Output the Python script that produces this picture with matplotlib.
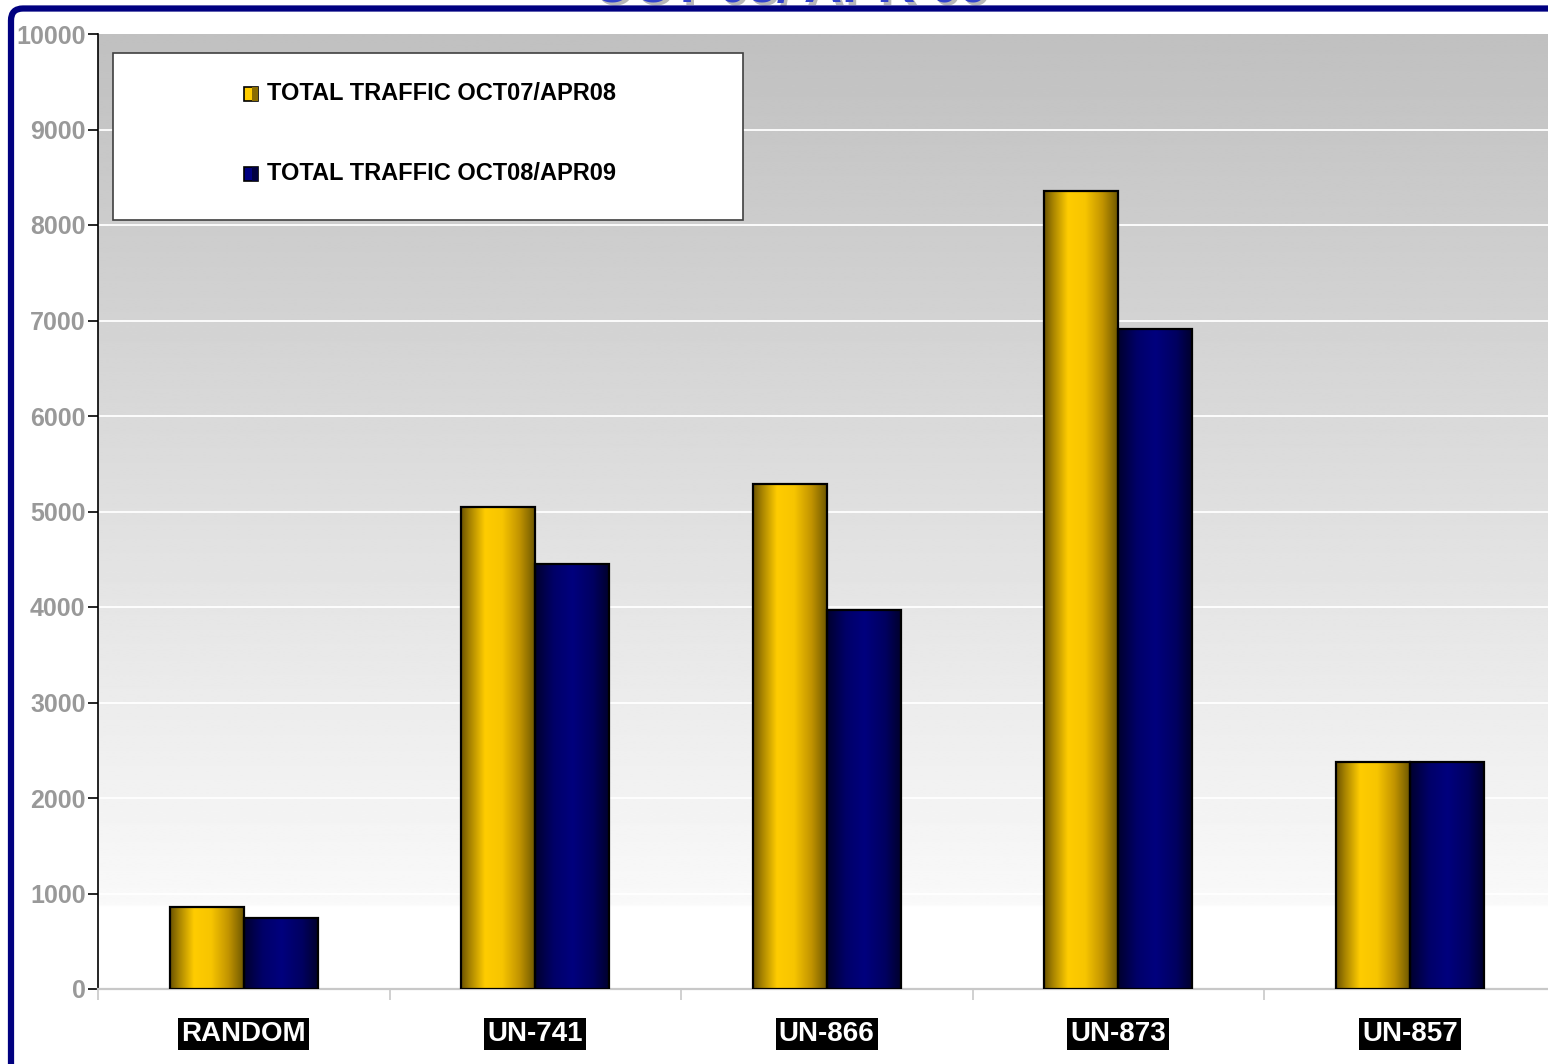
import numpy as np
import matplotlib.pyplot as plt
from matplotlib.colors import LinearSegmentedColormap
from matplotlib.patches import Rectangle, FancyBboxPatch

# datos
rutas = ["RANDOM", "UN-741", "UN-866", "UN-873", "UN-857"]
trafico_0708 = [860, 5050, 5290, 8360, 2380]
trafico_0809 = [745, 4450, 3970, 6910, 2380]
etiquetas_leyenda = ["TOTAL TRAFFIC OCT07/APR08", "TOTAL TRAFFIC OCT08/APR09"]
titulo = "OCT 08/ APR 09"

plt.rcParams["font.family"] = ["Liberation Sans", "DejaVu Sans"]
plt.rcParams["font.weight"] = "bold"

W, H = 1548, 1064
fig = plt.figure(figsize=(W / 100, H / 100), dpi=100)
fig.patch.set_facecolor("white")


def px(x, y):
    """pixel (origen arriba-izquierda) -> coordenadas de figura"""
    return x / W, 1 - y / H


x0, y_top, y_bot, x1 = 98, 34, 989, 1555.5
ax = fig.add_axes([x0 / W, 1 - y_bot / H, (x1 - x0) / W, (y_bot - y_top) / H])

cmap_oro = LinearSegmentedColormap.from_list("oro", [
    (0.0, "#6a5200"), (0.12, "#a88400"), (0.32, "#ffcc00"),
    (0.55, "#f7c500"), (0.78, "#c29400"), (1.0, "#6a5500")])
cmap_azul = LinearSegmentedColormap.from_list("azul", [
    (0.0, "#00002e"), (0.25, "#000068"), (0.5, "#00007e"),
    (0.78, "#000060"), (1.0, "#00002a")])

# fondo degradado del area de trazado
yy = np.linspace(0, 10000, 400)
g = np.where(yy > 860, 0.753 + (0.978 - 0.753) * (10000 - yy) / (10000 - 860), 1.0)
fondo = np.repeat(g[::-1, None], 2, axis=1)
ax.imshow(fondo, cmap="gray", vmin=0, vmax=1, extent=(-0.5, 4.5, 0, 10000),
          aspect="auto", zorder=0, interpolation="bilinear")

for v in range(1000, 10000, 1000):
    ax.axhline(v, color="white", lw=1.3, zorder=1)

ancho = 0.254
grad = np.linspace(0, 1, 256)[None, :]


def barra(xc, h, cmap):
    rect = Rectangle((xc, 0), ancho, h, facecolor="none", edgecolor="black",
                     lw=1.6, zorder=4)
    ax.add_patch(rect)
    im = ax.imshow(grad, cmap=cmap, extent=(xc, xc + ancho, 0, h),
                   aspect="auto", zorder=3, interpolation="bilinear")
    im.set_clip_path(rect)


for i in range(len(rutas)):
    barra(i - ancho, trafico_0708[i], cmap_oro)
    barra(i, trafico_0809[i], cmap_azul)

ax.set_xlim(-0.5, 4.5)
ax.set_ylim(0, 10000)
ax.set_yticks(range(0, 10001, 1000))
ax.tick_params(axis="y", colors="black", length=7, width=1.2, direction="out",
               labelcolor="#999999", labelsize=18, pad=2)
for lab in ax.get_yticklabels():
    lab.set_fontweight("bold")

ax.set_xticks(range(len(rutas)))
ax.set_xticklabels(rutas, fontsize=20, fontweight="bold", color="white")
ax.set_xticks(np.arange(-0.5, 4.6, 1), minor=True)
ax.tick_params(axis="x", which="major", length=0, pad=23)
ax.tick_params(axis="x", which="minor", length=8, width=1.2, color="#c8c8c8",
               direction="out")
for lab in ax.get_xticklabels():
    lab.set_bbox(dict(facecolor="black", edgecolor="none",
                      boxstyle="square,pad=0.12"))

for s in ["top", "right"]:
    ax.spines[s].set_visible(False)
ax.spines["left"].set_color("black")
ax.spines["left"].set_linewidth(1.2)
ax.spines["bottom"].set_color("#c8c8c8")
ax.spines["bottom"].set_linewidth(1.6)

# leyenda dibujada a mano
lx, ly = px(113, 220)
rx, ry = px(743, 53)
fig.patches.append(Rectangle((lx, ly), rx - lx, ry - ly, transform=fig.transFigure,
                             facecolor="white", edgecolor="#404040", lw=1.2,
                             zorder=6))
colores_leyenda = [("#ffcc00", "#8a6c00"), ("#000080", "#000040")]
for k, (lab, (c1, c2)) in enumerate(zip(etiquetas_leyenda, colores_leyenda)):
    yc = 94 + 80 * k
    sx, sy = px(244, yc + 7)
    sw = 14 / W
    sh = 14 / H
    fig.patches.append(Rectangle((sx, sy), sw, sh, transform=fig.transFigure,
                                 facecolor=c1, edgecolor="black", lw=1.2, zorder=7))
    fig.patches.append(Rectangle((sx + sw * 0.55, sy), sw * 0.45, sh,
                                 transform=fig.transFigure, facecolor=c2,
                                 edgecolor="none", zorder=7))
    tx, ty = px(267, yc)
    fig.text(tx, ty, lab, fontsize=17, fontweight="bold", color="black",
             va="center", ha="left", zorder=8)

# marco azul de la diapositiva
marco = FancyBboxPatch((11 / 100, -0.5), (W + 100) / 100, (H - 8.5) / 100 + 0.5,
                       boxstyle="round,pad=0,rounding_size=0.12",
                       transform=fig.dpi_scale_trans, facecolor="none",
                       edgecolor="#000080", lw=4.5, zorder=9)
fig.patches.append(marco)

# titulo recortado arriba (como en la diapositiva original)
tx, ty = px(790, 2)
fig.text(tx + 3 / W, ty - 3 / H, titulo, fontsize=38, fontweight="bold",
         color="#b8b8b8", ha="center", va="baseline", zorder=2)
fig.text(tx, ty, titulo, fontsize=38, fontweight="bold", color="#3344cc",
         ha="center", va="baseline", zorder=3)

fig.savefig("out.png", dpi=100)
